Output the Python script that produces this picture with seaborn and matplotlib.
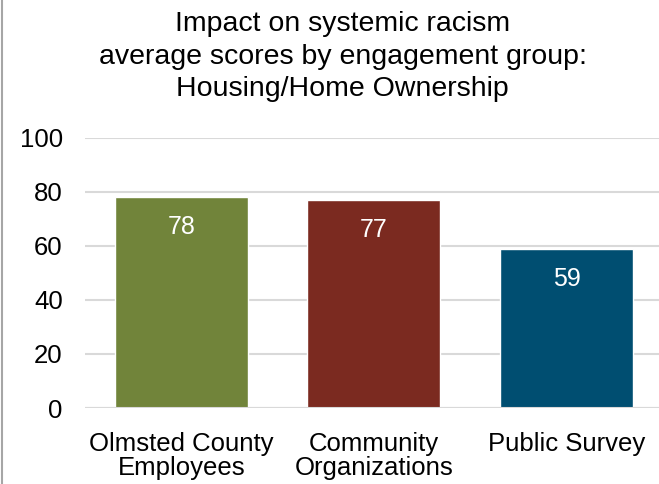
import seaborn as sns
import matplotlib.pyplot as plt
import matplotlib.lines as mlines
import pandas as pd

sns.set_theme(style='white')
plt.rcParams['font.family'] = ['Liberation Sans', 'DejaVu Sans']

groups = ["Olmsted County\nEmployees", "Community\nOrganizations", "Public Survey"]
scores = [78, 77, 59]
colors = ["#71843A", "#7B2A20", "#004E71"]
yticks = [0, 20, 40, 60, 80, 100]
title = "Impact on systemic racism\naverage scores by engagement group:\nHousing/Home Ownership"

df = pd.DataFrame({"group": groups, "score": scores})

fig, ax = plt.subplots(figsize=(6.59, 4.84), dpi=100)
fig.subplots_adjust(left=0.129, right=1.0, top=0.715, bottom=0.157)

sns.barplot(data=df, x="group", y="score", hue="group", palette=colors,
            width=0.69, saturation=1, legend=False, ax=ax, zorder=3)

ax.set_ylim(0, 100)
ax.set_yticks(yticks)
ax.set_xlim(-0.5, 2.48)
ax.yaxis.grid(True, color="#D9D9D9", linewidth=1.5, zorder=0)
for s in ax.spines.values():
    s.set_visible(False)
ax.axhline(0, color="#D9D9D9", linewidth=1.5, zorder=4)
ax.set_xlabel("")
ax.set_ylabel("")
ax.tick_params(axis='both', labelsize=18.5, colors="black", length=0)
ax.tick_params(axis='y', pad=16)
ax.tick_params(axis='x', pad=17)
for lbl in ax.get_xticklabels():
    lbl.set_linespacing(1.0)

# value labels inside the top of each bar
for cont in ax.containers:
    for bar in cont:
        h = bar.get_height()
        ax.annotate(f"{h:.0f}", (bar.get_x() + bar.get_width() / 2, h),
                    xytext=(0, -30), textcoords="offset pixels",
                    ha="center", va="center", color="white", fontsize=18, zorder=5)

fig.suptitle(title, x=0.52, y=0.977, fontsize=20.5, linespacing=1.33,
             va="top", color="black")

fig.add_artist(mlines.Line2D([0.003, 0.003], [0, 1], color="#A6A6A6", linewidth=1.5,
                             transform=fig.transFigure))

fig.savefig("out.png", dpi=100)
